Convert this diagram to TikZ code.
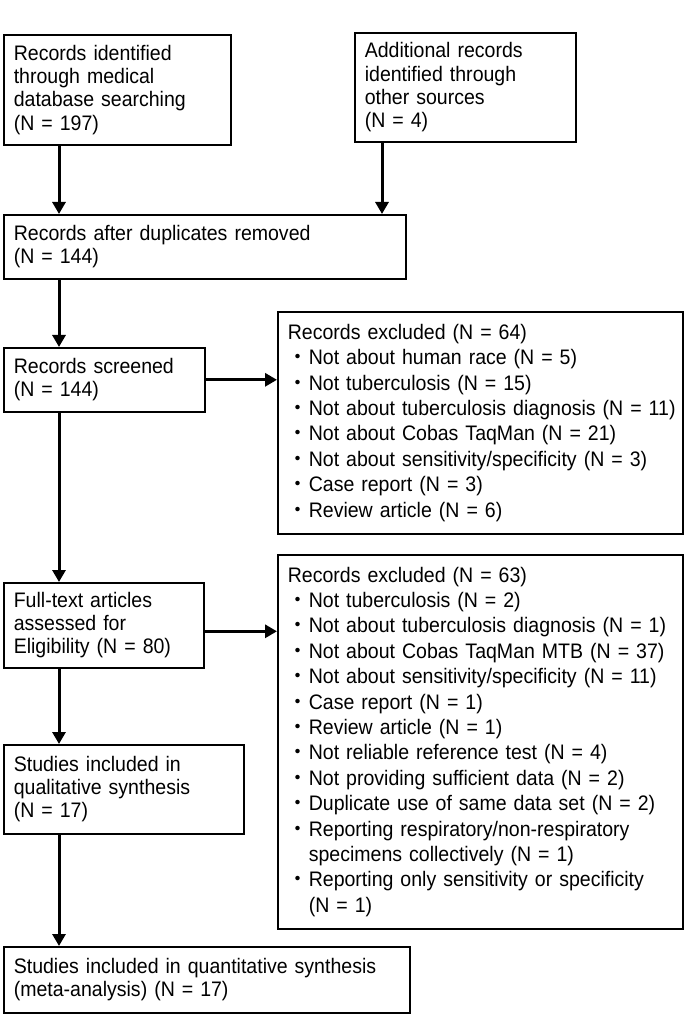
\documentclass[tikz,border=0pt]{standalone}
\usepackage{fontspec}
\setmainfont{Liberation Sans}[FakeStretch=0.93]
\newfontfamily\jpfont{Noto Sans CJK JP}
\usetikzlibrary{arrows.meta}
\newcommand{\itm}{{\jpfont ・}}
\newcommand{\ind}{\hphantom{\itm}}

\begin{document}
\begin{tikzpicture}[
    x=0.5pt, y=-0.5pt,
    box/.style={draw=black, line width=0.8pt, anchor=north west, inner xsep=5pt, inner ysep=0pt,
                align=left, font=\fontsize{10.5}{11.6}\selectfont},
    listbox/.style={box, text width=192.5pt, font=\fontsize{10.5}{12.7}\selectfont},
    flow/.style={line width=1.5pt, -{Triangle[length=6pt, width=6.5pt]}}
]
\useasboundingbox (0,0) rectangle (685,1015);

\node[box, text width=103.5pt, minimum height=55pt] (ident) at (3,34)
  {Records identified\\through medical\\database searching\\(N = 197)};
\node[box, text width=100.5pt, minimum height=54.5pt] (other) at (354,32)
  {Additional records\\identified through\\other sources\\(N = 4)};
\node[box, text width=191pt, minimum height=32pt] (dedup) at (3,214)
  {Records after duplicates removed\\(N = 144)};
\node[box, text width=90.5pt, minimum height=32pt] (screen) at (3,347)
  {Records screened\\(N = 144)};
\node[listbox, minimum height=111pt] (excl1) at (277,311)
  {Records excluded (N = 64)\\
   \itm Not about human race (N = 5)\\
   \itm Not tuberculosis (N = 15)\\
   \itm \mbox{Not about tuberculosis diagnosis (N = 11)}\\
   \itm Not about Cobas TaqMan (N = 21)\\
   \itm Not about sensitivity/specificity (N = 3)\\
   \itm Case report (N = 3)\\
   \itm Review article (N = 6)};
\node[box, text width=90pt, minimum height=42.5pt] (fulltext) at (3,582)
  {Full-text articles\\assessed for\\Eligibility (N = 80)};
\node[listbox, minimum height=187pt] (excl2) at (277,554)
  {Records excluded (N = 63)\\
   \itm Not tuberculosis (N = 2)\\
   \itm Not about tuberculosis diagnosis (N = 1)\\
   \itm Not about Cobas TaqMan MTB (N = 37)\\
   \itm Not about sensitivity/specificity (N = 11)\\
   \itm Case report (N = 1)\\
   \itm Review article (N = 1)\\
   \itm Not reliable reference test (N = 4)\\
   \itm Not providing sufficient data (N = 2)\\
   \itm Duplicate use of same data set (N = 2)\\
   \itm Reporting respiratory/non-respiratory\\
   \ind specimens collectively (N = 1)\\
   \itm Reporting only sensitivity or specificity\\
   \ind (N = 1)};
\node[box, text width=110pt, minimum height=44.5pt] (quali) at (3,744)
  {Studies included in\\qualitative synthesis\\(N = 17)};
\node[box, text width=193pt, minimum height=33pt] (quanti) at (3,946)
  {Studies included in quantitative synthesis\\(meta-analysis) (N = 17)};

% main column
\foreach \a/\b in {ident/dedup, dedup/screen, screen/fulltext, fulltext/quali, quali/quanti}
  \draw[flow] ([xshift=28pt]\a.south west) -- ([xshift=28pt]\b.north west);

\draw[flow] ([xshift=14pt]other.south west) -- ([xshift=14pt]other.south west |- dedup.north);

% exclusions
\draw[flow] (screen.east) -- (screen.east -| excl1.west);
\draw[flow] ([yshift=-3pt]fulltext.east) -- ([yshift=-3pt]fulltext.east -| excl2.west);

\end{tikzpicture}
\end{document}
